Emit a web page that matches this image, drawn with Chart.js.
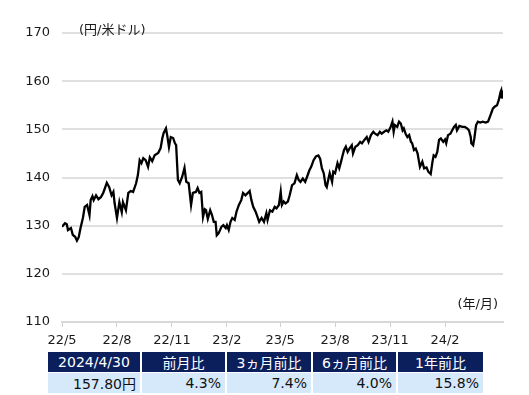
<!DOCTYPE html>
<html lang="ja">
<head>
<meta charset="utf-8">
<script src="https://cdn.jsdelivr.net/npm/chart.js@4/dist/chart.umd.min.js"></script>
<style>
  body { margin: 0; background: #fff; font-family: "DejaVu Sans", "Noto Sans CJK JP", sans-serif; }
  #wrap { position: relative; width: 529px; height: 395px; }
  #fxChart { position: absolute; left: 0; top: 0; }
  #summary {
    position: absolute; left: 48px; top: 352px;
    border-collapse: collapse; font-size: 14px;
  }
  #summary th, #summary td { padding: 0; border-right: 2px solid #fff; }
  #summary th {
    background: #0b1f5c; color: #fff; font-weight: normal;
    height: 20px; text-align: center; border-bottom: 1px solid #fff;
  }
  #summary td {
    background: #d5e9fb; color: #111; height: 20px;
    text-align: right; padding-right: 4px;
  }
</style>
</head>
<body>
<div id="wrap">
  <canvas id="fxChart" width="529" height="352"></canvas>
  <table id="summary">
    <tr id="headRow"></tr>
    <tr id="valueRow"></tr>
  </table>
</div>
<script>
// ================= DATA =================
// days since 2022/5/1
const dayIdx = [
  0, 5, 8, 10, 15, 18, 22, 25, 28, 31,
  35, 38, 42, 46, 48, 51, 53, 57, 61, 65,
  69, 75, 79, 83, 86, 88, 92, 96, 100, 102,
  107, 111, 115, 119, 124, 127, 130, 133, 136, 140,
  144, 147, 151, 155, 161, 165, 168, 170, 174, 176,
  179, 182, 186, 189, 191, 194, 197, 201, 205, 208,
  212, 216, 219, 224, 227, 230, 233, 236, 239, 241,
  244, 248, 251, 254, 257, 259, 262, 267, 270, 274,
  276, 279, 282, 285, 289, 292, 296, 300, 303, 307,
  311, 314, 317, 320, 324, 327, 330, 334, 338, 342,
  344, 348, 352, 356, 359, 363, 366, 368, 371, 374,
  378, 381, 385, 389, 393, 396, 399, 403, 407, 410,
  414, 417, 421, 425, 429, 432, 435, 438, 441, 443,
  446, 448, 452, 454, 457, 461, 464, 467, 469, 472,
  475, 478, 481, 485, 487, 491, 495, 499, 502, 506,
  510, 513, 517, 521, 524, 528, 532, 535, 539, 543,
  546, 550, 553, 555, 557, 561, 564, 567, 570, 572,
  575, 578, 581, 584, 586, 589, 592, 595, 597, 599,
  603, 606, 610, 613, 617, 620, 622, 625, 628, 631,
  634, 638, 641, 643, 646, 650, 653, 656, 659, 661,
  665, 670, 674, 678, 681, 684, 685, 688, 690, 693,
  696, 700, 704, 709, 713, 716, 719, 721, 724, 728,
  731, 734, 735, 736, 738
];
// 円/米ドル
const usdJpy = [
  129.8, 130.5, 130.3, 129.1, 129.5, 128.1, 127.7, 126.9, 127.6, 129.5,
  131.6, 133.9, 134.3, 132.2, 135.3, 136.1, 135.3, 136.3, 135.5, 135.9,
  136.8, 138.9, 138.0, 136.3, 137.0, 134.7, 131.6, 134.9, 132.8, 134.9,
  133.2, 136.8, 137.2, 137.0, 138.8, 140.5, 143.6, 143.0, 144.0, 143.6,
  142.2, 144.2, 143.4, 144.6, 145.1, 146.1, 148.2, 149.2, 150.2, 148.8,
  146.3, 148.4, 148.2, 147.1, 146.7, 139.5, 138.8, 140.1, 142.0, 139.1,
  138.8, 134.3, 136.8, 137.0, 137.8, 136.8, 137.0, 131.8, 133.4, 133.2,
  131.4, 133.2, 132.2, 130.8, 130.8, 128.0, 128.4, 129.8, 130.1, 129.5,
  130.1, 129.1, 130.8, 131.6, 131.2, 132.9, 134.3, 135.3, 136.8, 136.3,
  136.8, 137.2, 135.3, 133.9, 132.9, 131.9, 130.8, 131.6, 130.8, 132.6,
  131.2, 133.2, 132.9, 133.9, 133.6, 134.3, 137.0, 134.3, 135.0, 134.6,
  135.0, 136.3, 138.4, 138.8, 140.5, 139.5, 139.1, 139.8, 139.1, 140.1,
  141.5, 142.2, 143.6, 144.4, 144.6, 143.9, 141.9, 140.9, 138.4, 138.0,
  139.8, 140.9, 139.1, 141.2, 140.9, 143.0, 141.9, 143.3, 144.3, 145.7,
  146.4, 145.3, 146.0, 146.7, 145.0, 146.4, 146.7, 147.4, 147.1, 147.8,
  148.4, 147.4, 148.8, 149.5, 149.1, 148.8, 149.5, 149.1, 149.5, 149.8,
  149.5, 150.5, 151.6, 149.5, 150.9, 150.5, 151.6, 151.2, 149.8, 150.2,
  149.1, 148.4, 148.8, 147.4, 147.1, 145.7, 146.0, 145.0, 143.6, 142.2,
  143.3, 141.9, 142.1, 141.2, 140.7, 143.3, 144.6, 144.3, 145.3, 147.8,
  148.1, 147.4, 147.9, 147.1, 148.8, 149.1, 149.8, 150.5, 150.9, 149.8,
  150.7, 150.5, 150.5, 150.2, 149.8, 148.4, 147.1, 146.7, 148.1, 150.9,
  151.6, 151.4, 151.6, 151.4, 151.6, 152.6, 153.6, 154.3, 154.7, 155.0,
  156.1, 157.8, 158.1, 156.4, 157.8
];

// x tick positions (days since 2022/5/1) and their labels
const tickDays = [0, 92, 184, 276, 365, 457, 549, 641];
const tickLabels = ["22/5", "22/8", "22/11", "23/2", "23/5", "23/8", "23/11", "24/2"];

// summary table
const tableHeads = ["2024/4/30", "前月比", "3ヵ月前比", "6ヵ月前比", "1年前比"];
const tableValues = ["157.80円", "4.3%", "7.4%", "4.0%", "15.8%"];
const colWidths = [92, 83, 84, 83, 85];

const FONT = "'DejaVu Sans', 'Noto Sans CJK JP', sans-serif";
const TEXT_COLOR = "#1a1a1a";

// ================= AXIS TITLES =================
const unitLabels = {
  id: "unitLabels",
  afterDraw(chart) {
    const ctx = chart.ctx;
    ctx.save();
    ctx.font = "13px " + FONT;
    ctx.fillStyle = TEXT_COLOR;
    ctx.textBaseline = "middle";
    ctx.textAlign = "left";
    ctx.fillText("(円/米ドル)", 79, 31);
    ctx.textAlign = "right";
    ctx.fillText("(年/月)", 498, 305);
    ctx.restore();
  }
};

// ================= CHART =================
const fxChart = new Chart(document.getElementById("fxChart"), {
  type: "line",
  data: {
    datasets: [{
      data: dayIdx.map((d, i) => ({ x: d, y: usdJpy[i] })),
      borderColor: "#000",
      borderWidth: 2.3,
      pointRadius: 0,
      tension: 0
    }]
  },
  options: {
    responsive: false,
    animation: false,
    layout: { padding: { top: 33, right: 26, left: 0, bottom: 0 } },
    plugins: { legend: { display: false }, tooltip: { enabled: false } },
    scales: {
      x: {
        type: "linear",
        min: 0,
        max: 738,
        afterBuildTicks: axis => { axis.ticks = tickDays.map(v => ({ value: v })); },
        afterFit: axis => { axis.height = 30; },
        ticks: {
          autoSkip: false,
          maxRotation: 0,
          padding: 6,
          color: TEXT_COLOR,
          font: { family: FONT, size: 13 },
          callback: (v) => tickLabels[tickDays.indexOf(v)] ?? ""
        },
        grid: { drawOnChartArea: false, tickLength: 5, color: "#d0d0d0" },
        border: { color: "#d8d8d8", width: 2 }
      },
      y: {
        min: 110,
        max: 170,
        afterFit: axis => { axis.width = 62; },
        ticks: {
          stepSize: 10,
          padding: 12,
          color: TEXT_COLOR,
          font: { family: FONT, size: 13 }
        },
        grid: { color: "#e0e0e0", lineWidth: 2, drawTicks: false },
        border: { display: false }
      }
    }
  },
  plugins: [unitLabels]
});

// ================= TABLE =================
const headRow = document.getElementById("headRow");
const valueRow = document.getElementById("valueRow");
tableHeads.forEach((h, i) => {
  const th = document.createElement("th");
  th.textContent = h;
  th.style.width = colWidths[i] + "px";
  headRow.appendChild(th);
  const td = document.createElement("td");
  td.textContent = tableValues[i];
  valueRow.appendChild(td);
});
</script>
</body>
</html>
